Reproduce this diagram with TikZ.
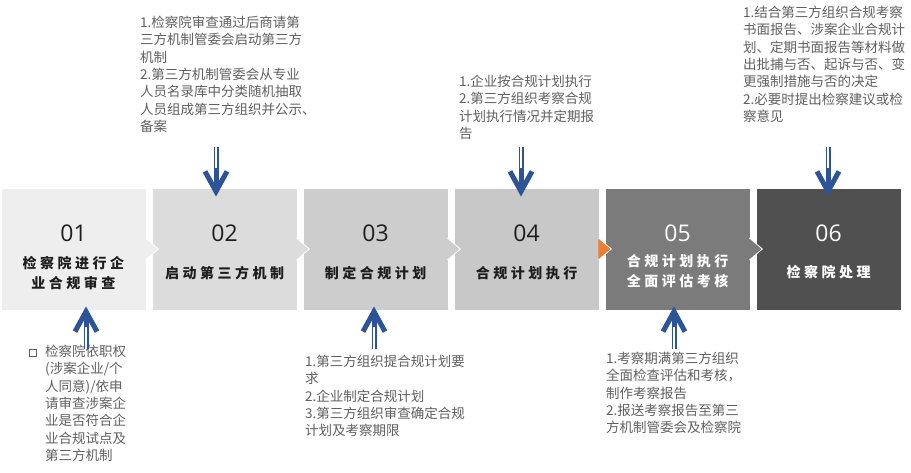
\documentclass[tikz,border=0pt]{standalone}
\usepackage{fontspec}
\setmainfont{Noto Sans CJK SC}
\newfontfamily\cjkwide{Noto Sans CJK SC}[LetterSpace=25]
\newfontfamily\numfont{Open Sans}
\usepackage{tikz}
\usetikzlibrary{arrows.meta}
\usetikzlibrary{calc}

\definecolor{boxa}{HTML}{EEEEEE}
\definecolor{boxb}{HTML}{DCDCDC}
\definecolor{boxc}{HTML}{CDCDCD}
\definecolor{boxd}{HTML}{C8C8C8}
\definecolor{boxe}{HTML}{7B7B7B}
\definecolor{boxf}{HTML}{505050}
\definecolor{orangetip}{HTML}{ED7D31}
\definecolor{arrowblue}{RGB}{44,84,150}
\definecolor{notegray}{HTML}{5F5F5F}
\definecolor{darktext}{HTML}{1E1E1E}

\tikzset{
  box/.style={minimum width=145pt, minimum height=122pt, inner sep=0pt, draw=white, line width=0.8pt},
  num/.style={font=\numfont\fontsize{23}{23}\selectfont, inner sep=0pt},
  ttl/.style={font=\cjkwide\bfseries\fontsize{14}{19.5}\selectfont, align=center, inner sep=0pt},
  note/.style={font=\fontsize{13.5}{17.3}\selectfont, text=notegray, align=left, anchor=north west, inner sep=0pt},
  bullet/.style={draw=notegray, line width=1.4pt, minimum size=7pt, inner sep=0pt},
  bluearrow/.style={draw=arrowblue, line width=5pt, -{Straight Barb[length=20pt, width=22pt, line width=5pt]}},
  shaftline/.style={draw=white, line width=1.1pt}
}

\begin{document}
\begin{tikzpicture}[x=1pt,y=-1pt]
\useasboundingbox (0,0) rectangle (911,473);

% the six steps
\path
(73.5,249) node[box, fill=boxa] (b1) {}
(224.5,249) node[box, fill=boxb] (b2) {}
(375.5,249) node[box, fill=boxc] (b3) {}
(526.5,249) node[box, fill=boxd] (b4) {}
(677.5,249) node[box, fill=boxe] (b5) {}
(828.5,249) node[box, fill=boxf] (b6) {};

% small pointers between the steps
\foreach \i/\c in {1/boxa,2/boxb,3/boxc,4/orangetip,5/boxe}
   \filldraw[fill=\c, draw=white, line width=0.8pt] (b\i.east) ++(-1,-11) -- ++(13,11) -- ++(-13,11);

\foreach \i/\n in {1/01,2/02,3/03,4/04}
   \node[num, text=darktext] (n\i) at ($(b\i.center)+(0,-16)$) {\n};
\foreach \i/\n in {5/05,6/06}
   \node[num, text=white] (n\i) at ($(b\i.center)+(0,-16)$) {\n};

\path
($(b1.center)+(0,24)$) node[ttl, text=darktext] (t1) {检察院进行企\\业合规审查}
($(b2.center)+(0,24)$) node[ttl, text=darktext] (t2) {启动第三方机制}
($(b3.center)+(0,24)$) node[ttl, text=darktext] (t3) {制定合规计划}
($(b4.center)+(0,24)$) node[ttl, text=darktext] (t4) {合规计划执行}
($(b5.center)+(0,22)$) node[ttl, text=white] (t5) {合规计划执行\\全面评估考核}
($(b6.center)+(0,23)$) node[ttl, text=white] (t6) {检察院处理};

% notes above
\path
(140,16) node[note] (m2) {1.检察院审查通过后商请第\\三方机制管委会启动第三方\\机制\\2.第三方机制管委会从专业\\人员名录库中分类随机抽取\\人员组成第三方组织并公示、\\备案}
(459,75) node[note] (m4) {1.企业按合规计划执行\\2.第三方组织考察合规\\计划执行情况并定期报\\告}
(743,6) node[note] (m6) {1.结合第三方组织合规考察\\书面报告、涉案企业合规计\\划、定期书面报告等材料做\\出批捕与否、起诉与否、变\\更强制措施与否的决定\\2.必要时提出检察建议或检\\察意见};

% notes below
\path
(45,345) node[note] (m1) {检察院依职权\\(涉案企业/个\\人同意)/依申\\请审查涉案企\\业是否符合企\\业合规试点及\\第三方机制}
(305,355) node[note] (m3) {1.第三方组织提合规计划要\\求\\2.企业制定合规计划\\3.第三方组织审查确定合规\\计划及考察期限}
(606,352) node[note] (m5) {1.考察期满第三方组织\\全面检查评估和考核，\\制作考察报告\\2.报送考察报告至第三\\方机制管委会及检察院};
\node[bullet] (q1) at (33,353) {};

% arrows into the steps
\coordinate (s2) at (216,147);
\coordinate (s4) at (521,147);
\coordinate (s6) at (828,147);
\coordinate (s1) at (86,349);
\coordinate (s3) at (374,349);
\coordinate (s5) at (674,349);

\foreach \i in {2,4,6} {
   \draw[bluearrow, shorten >=-9pt] (s\i) -- (s\i |- b\i.north);
   \draw[shaftline, shorten >=20pt] (s\i) -- (s\i |- b\i.north);
}
\foreach \i in {1,3,5} {
   \draw[bluearrow, shorten >=-4pt] (s\i) -- (s\i |- b\i.south);
   \draw[shaftline, shorten >=17pt] (s\i) -- (s\i |- b\i.south);
}

\end{tikzpicture}
\end{document}
